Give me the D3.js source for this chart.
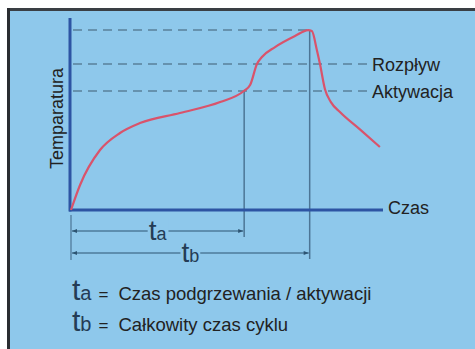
<!DOCTYPE html>
<html>
<head>
<meta charset="utf-8">
<script src="https://cdn.jsdelivr.net/npm/d3@7"></script>
<style>
  body { margin: 0; background: #fff; }
  svg { display: block; font-family: "Liberation Sans", Arial, sans-serif; }
</style>
</head>
<body>
<div id="chart"></div>
<script>
// time (0-100) / temperature (0-100)
const curveTime = [0, 2.9, 9.3, 15.7, 22.1, 34.9, 47.8, 55.4, 57.4, 59.6, 61.2, 65.4, 71.8, 76, 77.2, 78.8, 79.8, 81.4, 83.3, 86.2, 92.6, 99];
const curveTemp = [0, 13.1, 31.4, 40.3, 45.5, 50.8, 56.5, 62.3, 65.4, 76.4, 80.1, 85.3, 91.1, 94.2, 93.7, 83.8, 76.4, 63.2, 56.5, 51.3, 42.2, 33];

const levelNames = ["", "Rozpływ", "Aktywacja"];
const levelTemps = [94.2, 76.4, 62.3];
const levelEnds = [76.5, 95, 95];

const times = ["a", "b"];
const timeValues = [55.5, 76.5];
const legendTexts = ["Czas podgrzewania / aktywacji", "Całkowity czas cyklu"];

const width = 475, height = 349;
const panelColor = "#8ec8eb";

const svg = d3.select("#chart").append("svg")
  .attr("width", width)
  .attr("height", height);

// panel
svg.append("rect")
  .attr("x", 8).attr("y", 9)
  .attr("width", width).attr("height", height)
  .attr("fill", panelColor);
svg.append("line")
  .attr("x1", 8).attr("x2", width).attr("y1", 9.5).attr("y2", 9.5)
  .attr("stroke", "#3a3f44").attr("stroke-width", 3);
svg.append("line")
  .attr("x1", 8.5).attr("x2", 8.5).attr("y1", 8).attr("y2", height)
  .attr("stroke", "#2a2d31").attr("stroke-width", 3);

const x = d3.scaleLinear().domain([0, 100]).range([71, 383]);
const y = d3.scaleLinear().domain([0, 100]).range([210, 19]);

const points = curveTime.map((t, i) => ({ t: t, v: curveTemp[i] }));

// dashed levels
svg.selectAll(".level")
  .data(levelTemps)
  .enter()
  .append("line")
  .attr("class", "level")
  .attr("x1", x(0) + 2)
  .attr("x2", (d, i) => x(levelEnds[i]))
  .attr("y1", d => y(d))
  .attr("y2", d => y(d))
  .attr("stroke", "#5a809a")
  .attr("stroke-width", 1.5)
  .attr("stroke-dasharray", "9,6");

svg.selectAll(".level-label")
  .data(levelNames)
  .enter()
  .append("text")
  .attr("x", x(96.5))
  .attr("y", (d, i) => y(levelTemps[i]) + 6.5)
  .attr("font-size", 18)
  .attr("fill", "#222")
  .text(d => d);

// vertical time markers
const markerTemps = [levelTemps[2], levelTemps[0]];
const arrowY = [231, 253];

svg.selectAll(".marker")
  .data(timeValues)
  .enter()
  .append("line")
  .attr("x1", d => x(d)).attr("x2", d => x(d))
  .attr("y1", (d, i) => y(markerTemps[i]))
  .attr("y2", (d, i) => arrowY[i] + 6)
  .attr("stroke", "#4c7595")
  .attr("stroke-width", 1.5);

svg.append("line")
  .attr("x1", x(0)).attr("x2", x(0))
  .attr("y1", 215).attr("y2", 260)
  .attr("stroke", "#4c7595")
  .attr("stroke-width", 1.2);

// arrows
const defs = svg.append("defs");
["start", "end"].forEach(k => {
  defs.append("marker")
    .attr("id", "arr-" + k)
    .attr("viewBox", "0 0 10 10")
    .attr("refX", k === "end" ? 10 : 0).attr("refY", 5)
    .attr("markerWidth", 7).attr("markerHeight", 5)
    .attr("markerUnits", "userSpaceOnUse")
    .attr("orient", "auto")
    .append("path")
    .attr("d", k === "end" ? "M0,1L10,5L0,9Z" : "M10,1L0,5L10,9Z")
    .attr("fill", "#2d5472");
});

svg.selectAll(".span")
  .data(timeValues)
  .enter()
  .append("line")
  .attr("x1", x(0) + 1)
  .attr("x2", d => x(d) - 1)
  .attr("y1", (d, i) => arrowY[i])
  .attr("y2", (d, i) => arrowY[i])
  .attr("stroke", "#2d5472")
  .attr("stroke-width", 1)
  .attr("marker-start", "url(#arr-start)")
  .attr("marker-end", "url(#arr-end)");

const spanLabels = svg.selectAll(".span-label")
  .data(times)
  .enter()
  .append("text")
  .attr("x", (d, i) => x(timeValues[i] / 2))
  .attr("y", (d, i) => arrowY[i] + 8.5)
  .attr("text-anchor", "middle")
  .attr("fill", "#243c55");
spanLabels.each(function(d) {
  const bb = d3.select(this);
  bb.append("tspan").attr("font-size", 28).attr("font-family", "'Liberation Sans Narrow', 'Liberation Sans', sans-serif").text("t");
  bb.append("tspan").attr("font-size", 18).text(d);
});
// background behind labels
spanLabels.each(function() {
  const b = this.getBBox();
  d3.select(this.parentNode).insert("rect", function() { return this; }.bind(this))
    .attr("x", b.x - 1).attr("y", b.y + 4)
    .attr("width", b.width + 2).attr("height", b.height - 8)
    .attr("fill", panelColor);
});

// axes
svg.append("line")
  .attr("x1", x(0) - 1).attr("x2", x(0) - 1)
  .attr("y1", 18).attr("y2", y(0) + 1.5)
  .attr("stroke", "#2d54a3").attr("stroke-width", 3);
svg.append("line")
  .attr("x1", x(0) - 2).attr("x2", x(100))
  .attr("y1", y(0)).attr("y2", y(0))
  .attr("stroke", "#2d54a3").attr("stroke-width", 3);

svg.append("text")
  .attr("x", x(100) + 5)
  .attr("y", y(0) + 3.5)
  .attr("font-size", 18)
  .attr("fill", "#222")
  .text("Czas");

svg.append("text")
  .attr("transform", `translate(${63},${118.5}) rotate(-90)`)
  .attr("text-anchor", "middle")
  .attr("font-size", 18)
  .attr("fill", "#222")
  .text("Temparatura");

// temperature curve
const line = d3.line()
  .curve(d3.curveMonotoneX)
  .x(d => x(d.t))
  .y(d => y(d.v));

svg.append("path")
  .datum(points)
  .attr("fill", "none")
  .attr("stroke", "#d9536b")
  .attr("stroke-width", 2.2)
  .attr("d", line);

// legend
const legend = svg.selectAll(".legend")
  .data(times)
  .enter()
  .append("text")
  .attr("x", 72)
  .attr("y", (d, i) => 300 + i * 31)
  .attr("fill", "#222");
legend.append("tspan").attr("font-size", 30).attr("fill", "#243c55")
  .attr("font-family", "'Liberation Sans Narrow', 'Liberation Sans', sans-serif").text("t");
legend.append("tspan").attr("font-size", 20).attr("fill", "#243c55").text(d => d);
legend.append("tspan").attr("font-size", 17).attr("dx", 7).text("=");
legend.append("tspan").attr("font-size", 18.5).attr("dx", 10).text((d, i) => legendTexts[i]);
</script>
</body>
</html>
